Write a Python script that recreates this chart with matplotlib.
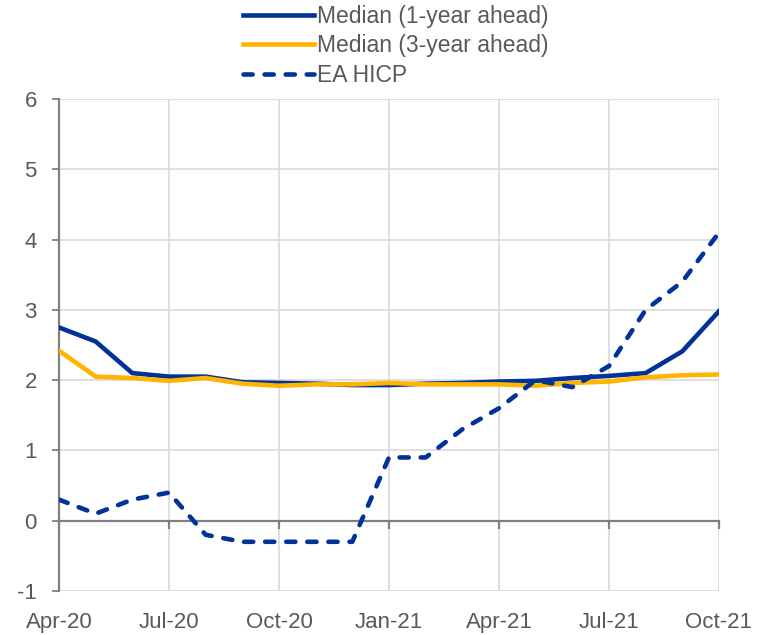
import matplotlib
matplotlib.use("Agg")
import matplotlib.pyplot as plt

months = ["Apr-20", "May-20", "Jun-20", "Jul-20", "Aug-20", "Sep-20", "Oct-20",
          "Nov-20", "Dec-20", "Jan-21", "Feb-21", "Mar-21", "Apr-21", "May-21",
          "Jun-21", "Jul-21", "Aug-21", "Sep-21", "Oct-21"]
median_1y = [2.75, 2.55, 2.10, 2.05, 2.05, 1.97, 1.96, 1.95, 1.93, 1.93, 1.95,
             1.96, 1.98, 1.99, 2.03, 2.06, 2.10, 2.41, 2.98]
median_3y = [2.42, 2.05, 2.03, 1.99, 2.03, 1.95, 1.92, 1.94, 1.94, 1.96, 1.94,
             1.94, 1.94, 1.92, 1.96, 1.98, 2.04, 2.07, 2.08]
ea_hicp = [0.3, 0.1, 0.3, 0.4, -0.2, -0.3, -0.3, -0.3, -0.3, 0.9, 0.9,
           1.3, 1.6, 2.0, 1.9, 2.2, 3.0, 3.4, 4.1]
tick_labels = ["Apr-20", "Jul-20", "Oct-20", "Jan-21", "Apr-21", "Jul-21", "Oct-21"]
y_ticks = [-1, 0, 1, 2, 3, 4, 5, 6]

BLUE = "#003299"
YELLOW = "#FFB400"
TXT = "#595959"
GRID = "#D9D9D9"
AX = "#808080"

plt.rcParams["font.family"] = ["Liberation Sans", "DejaVu Sans"]

fig = plt.figure(figsize=(7.65, 6.35), dpi=100)
ax = fig.add_axes([0.0771, 0.0693, 0.8627, 0.7748])

x = list(range(len(months)))
ax.plot(x, median_1y, color=BLUE, lw=3.3, label="Median (1-year ahead)", zorder=3)
ax.plot(x, median_3y, color=YELLOW, lw=3.3, label="Median (3-year ahead)", zorder=4)
ax.plot(x, ea_hicp, color=BLUE, lw=3.3, ls=(0, (2.0, 2.6)), dash_capstyle="round",
        label="EA HICP", zorder=5)

ax.set_xlim(0, len(months) - 1)
ax.set_ylim(-1, 6)
tick_pos = [months.index(t) for t in tick_labels]
ax.set_xticks(tick_pos)
ax.set_xticklabels(tick_labels)
ax.set_yticks(y_ticks)
ax.set_yticklabels([str(v) for v in y_ticks])

ax.grid(True, color=GRID, lw=1.2, zorder=0)
ax.set_axisbelow(True)
for s in ["top", "right"]:
    ax.spines[s].set_visible(False)
ax.spines["bottom"].set_position(("data", 0))
ax.spines["bottom"].set_color(AX)
ax.spines["bottom"].set_linewidth(1.6)
ax.spines["left"].set_color(AX)
ax.spines["left"].set_linewidth(1.6)

ax.tick_params(axis="x", direction="out", length=6, width=1.6, color=AX,
               pad=60, labelsize=16, labelcolor=TXT)
ax.tick_params(axis="y", direction="out", length=5, width=1.3, color=AX,
               pad=11, labelsize=16, labelcolor=TXT)

leg = fig.legend(*ax.get_legend_handles_labels(), loc="upper center",
                 bbox_to_anchor=(396 / 765, 1 - 5 / 635), frameon=False,
                 fontsize=16.5, handlelength=3.1, handletextpad=0.15,
                 labelspacing=0.28, borderaxespad=0.0, borderpad=0.0)
for t in leg.get_texts():
    t.set_color(TXT)

fig.savefig("out.png", dpi=100)
